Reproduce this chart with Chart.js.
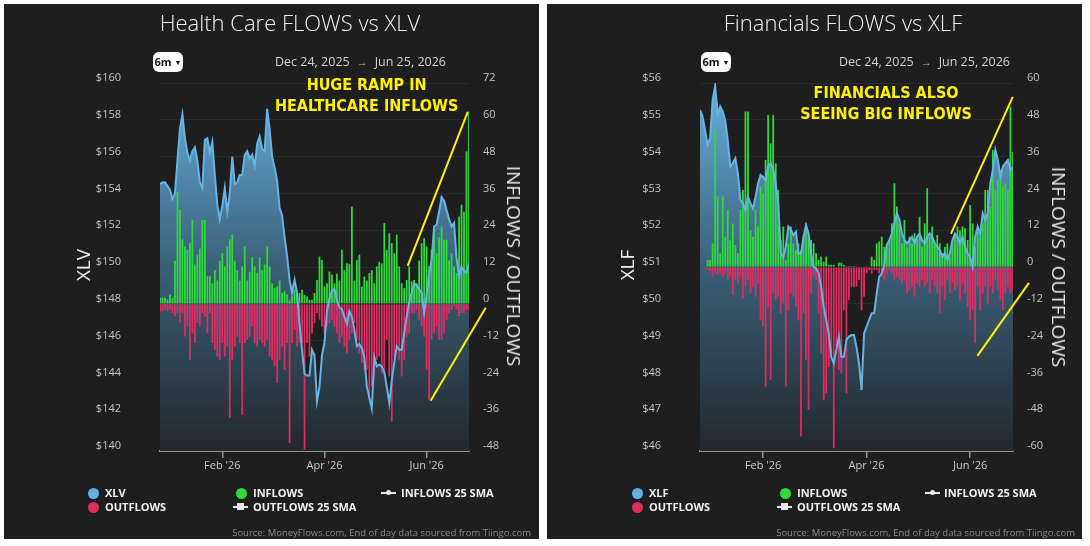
<!DOCTYPE html>
<html>
<head>
<meta charset="utf-8">
<script src="https://cdn.jsdelivr.net/npm/chart.js@4.4.1/dist/chart.umd.min.js"></script>
<style>
  body { margin: 0; background: #fff; width: 1090px; height: 546px; overflow: hidden; font-family: "Open Sans", sans-serif; }
  .panel { position: absolute; top: 4px; width: 535px; height: 535px; background: #1e1e1e; }
  .panel canvas { position: absolute; left: 0; top: 0; }
  .title { position: absolute; top: 3px; font-size: 22px; font-weight: 300; color: #f2f2f2; white-space: nowrap; transform: translateX(-50%); }
  .btn { position: absolute; top: 48px; width: 30px; height: 20px; background: #fff; border-radius: 6px; font-size: 11px; font-weight: 700; color: #111; line-height: 20px; text-align: center; }
  .btn span { font-size: 7px; vertical-align: 1px; }
  .range { position: absolute; top: 49px; font-size: 12.5px; color: #d2d2d2; white-space: nowrap; transform: translateX(-100%); }
  .range span { font-size: 11px; margin: 0 7px; color: #bbb; }
  .ytitle { position: absolute; font-size: 19px; font-weight: 400; color: #ececec; white-space: nowrap; }
  .lg { position: absolute; font-size: 11px; font-weight: 700; color: #f2f2f2; white-space: nowrap; line-height: 14px; }
  .dot { position: absolute; width: 11px; height: 11px; border-radius: 50%; }
  .sma { position: absolute; width: 15px; height: 2px; background: #e6e6e6; }
  .sma i { position: absolute; left: 5px; top: -2px; width: 5px; height: 5px; background: #e6e6e6; border-radius: 50%; }
  .sma b { position: absolute; left: 4px; top: -3px; width: 7px; height: 7px; background: #e6e6e6; }
  .src { position: absolute; top: 522px; font-size: 9.5px; color: #8c8c8c; white-space: nowrap; transform: translateX(-100%); }
</style>
</head>
<body>
<div class="panel" id="p1" style="left:4px">
  <canvas id="c1" width="535" height="535"></canvas>
  <div class="title" style="left:286px">Health Care FLOWS vs XLV</div>
  <div class="btn" style="left:149px">6m <span>&#9660;</span></div>
  <div class="range" style="left:442px">Dec 24, 2025<span>&rarr;</span>Jun 25, 2026</div>
  <div class="ytitle" style="left:79px;top:261px;transform:translate(-50%,-50%) rotate(-90deg)">XLV</div>
  <div class="ytitle" style="left:510px;top:262px;transform:translate(-50%,-50%) rotate(90deg)">INFLOWS / OUTFLOWS</div>
  <div class="dot" style="left:84px;top:484px;background:#62b3e2"></div><div class="lg" style="left:101px;top:482px">XLV</div>
  <div class="dot" style="left:84px;top:498px;background:#dc2d62"></div><div class="lg" style="left:101px;top:496px">OUTFLOWS</div>
  <div class="dot" style="left:232px;top:484px;background:#2fd83c"></div><div class="lg" style="left:249px;top:482px">INFLOWS</div>
  <div class="sma" style="left:229px;top:502px"><b></b></div><div class="lg" style="left:249px;top:496px">OUTFLOWS 25 SMA</div>
  <div class="sma" style="left:377px;top:488px"><i></i></div><div class="lg" style="left:397px;top:482px">INFLOWS 25 SMA</div>
  <div class="src" style="left:527px">Source: MoneyFlows.com, End of day data sourced from Tiingo.com</div>
</div>
<div class="panel" id="p2" style="left:547px">
  <canvas id="c2" width="535" height="535"></canvas>
  <div class="title" style="left:296px">Financials FLOWS vs XLF</div>
  <div class="btn" style="left:154px">6m <span>&#9660;</span></div>
  <div class="range" style="left:463px">Dec 24, 2025<span>&rarr;</span>Jun 25, 2026</div>
  <div class="ytitle" style="left:80px;top:261px;transform:translate(-50%,-50%) rotate(-90deg)">XLF</div>
  <div class="ytitle" style="left:512px;top:263px;transform:translate(-50%,-50%) rotate(90deg)">INFLOWS / OUTFLOWS</div>
  <div class="dot" style="left:85px;top:484px;background:#62b3e2"></div><div class="lg" style="left:102px;top:482px">XLF</div>
  <div class="dot" style="left:85px;top:498px;background:#dc2d62"></div><div class="lg" style="left:102px;top:496px">OUTFLOWS</div>
  <div class="dot" style="left:233px;top:484px;background:#2fd83c"></div><div class="lg" style="left:250px;top:482px">INFLOWS</div>
  <div class="sma" style="left:230px;top:502px"><b></b></div><div class="lg" style="left:250px;top:496px">OUTFLOWS 25 SMA</div>
  <div class="sma" style="left:378px;top:488px"><i></i></div><div class="lg" style="left:397px;top:482px">INFLOWS 25 SMA</div>
  <div class="src" style="left:528px">Source: MoneyFlows.com, End of day data sourced from Tiingo.com</div>
</div>
<script>
// trading-day index ticks (Dec 24, 2025 -> Jun 25, 2026, 125 sessions)
const tickIdx = [25, 66, 107];
const tickLabels = ["Feb '26", "Apr '26", "Jun '26"];

// Health Care / XLV
const xlvPrice = [154.5,154.6,154.6,154.4,154.2,153.7,154.0,155.8,157.5,158.3,
  157.0,156.2,155.8,156.3,156.5,155.8,154.6,154.3,156.9,157.0,
  156.2,156.8,155.0,153.4,152.6,153.3,154.3,153.0,154.0,156.0,
  154.5,154.6,155.0,155.0,156.1,156.3,155.9,156.1,155.5,156.7,
  157.1,156.4,156.3,158.6,157.5,156.0,155.4,154.7,153.2,152.8,
  151.6,150.6,149.3,148.6,149.3,148.6,146.9,145.5,144.2,144.1,
  144.1,145.5,145.2,142.7,143.5,145.2,145.9,147.6,148.3,148.7,
  148.8,148.2,147.8,147.7,147.3,146.9,147.6,147.3,146.6,145.7,
  145.8,145.6,145.1,143.5,142.9,142.3,145.1,144.6,144.7,144.6,
  144.3,143.5,142.6,143.8,144.8,145.7,145.5,145.5,146.4,147.3,
  148.1,148.6,149.1,149.0,148.8,148.6,147.5,148.5,149.6,150.4,
  152.2,152.3,153.0,153.8,153.6,153.1,152.6,152.2,152.4,150.5,
  149.5,150.0,149.8,149.7,150.2];
const xlvInflows = [2,2,2,1.5,3,2,14,36.6,30.6,21,
  18.7,17.6,19.8,27.4,12.8,16,18,27.4,27.4,9,
  9,6.7,11,7.6,14,16.5,12.2,18.7,21,22.5,
  14.1,11,7.6,12.2,18.7,7.6,10.4,15.2,12.2,10.1,
  15.2,11,12.8,18.7,12.2,6.7,5.1,5.6,7.6,3.5,
  4.1,3,1.3,2.4,4.6,3.5,3.5,4.6,2.9,2.4,
  1.3,1.3,3.5,7.8,15.4,14.3,5.6,6.7,10.5,9.5,
  6.7,9.8,7.6,17.6,11,13.2,13,31.7,7.6,14.3,
  16,5.6,8.9,7.6,10,11,6.7,12.2,13.7,13.2,
  26.3,17.6,23,19.8,16.5,22.5,12.2,6.7,5.1,7.8,
  12.2,7.3,7.8,6.7,14.1,19.8,21.4,18.7,12.2,17.6,
  25.2,16.5,21.7,25.2,20.9,20.9,14.1,16.5,12.2,10,
  28.5,32.3,30,49.7,62.7];
const xlvOutflows = [-2.5,-2.5,-2,-2.5,-2,-3,-4.1,-3,-6.3,-3,
  -10.7,-7.4,-18.3,-9.6,-12.8,-6.3,-7.4,-3,-4.1,-9.6,
  -3,-12.8,-15,-17.2,-18.3,-12.8,-17.2,-13.9,-37.3,-18.3,
  -13.9,-10.7,-12.8,-36.2,-12.8,-11.7,-10.7,-7.4,-12.8,-13.9,
  -11.7,-12.8,-13.9,-11.7,-17.2,-18.3,-20.4,-25.9,-18.3,-13.9,
  -21.5,-12.8,-45.4,-12.8,-8.5,-13.9,-12.8,-12.8,-47.6,-12.8,
  -17.2,-9.6,-6.3,-3,-5.2,-7.4,-9.6,-7.4,-6.3,-5.2,
  -7.4,-9.6,-12.8,-10.7,-13.9,-16.1,-11.7,-9.6,-6.3,-11.7,
  -16.1,-19.3,-21.5,-21.5,-31.3,-27,-23.7,-18.3,-17.2,-22.6,
  -21.5,-11.7,-23.7,-38.4,-17.2,-13.9,-18.3,-23.7,-18.3,-10.7,
  -9.6,-3,-3,-2,-5.2,-7.4,-10.7,-21.5,-31.3,-11.7,
  -9.6,-7.4,-11.7,-11.7,-9.6,-5.2,-3,-2,-0.9,-2,
  -4.1,-3,-3,-2,-2];

// Financials / XLF
const xlfPrice = [55.27,55.09,54.72,54.32,54.50,55.54,55.92,55.18,55.36,55.22,
  54.99,54.45,53.73,53.82,53.95,53.55,52.82,52.73,52.55,52.91,
  52.73,52.59,52.91,53.27,53.50,53.45,53.36,53.73,53.82,53.68,
  53.27,52.73,51.37,51.28,51.55,52.10,52.01,51.87,51.96,51.37,
  51.37,51.82,52.14,51.91,51.37,51.01,50.96,50.83,50.47,49.92,
  49.56,49.20,48.56,48.38,48.74,49.11,48.56,48.56,49.02,49.11,
  49.15,49.15,48.83,48.38,47.66,49.20,49.38,49.56,49.74,49.74,
  50.28,50.74,50.83,51.05,51.60,51.73,51.91,52.19,52.46,52.28,
  51.91,51.73,51.64,51.73,51.82,51.64,51.82,51.91,51.73,51.64,
  51.82,51.91,51.82,51.64,51.55,51.46,51.28,51.37,51.19,51.37,
  51.73,51.91,51.82,51.64,51.82,51.55,51.37,51.28,51.01,51.82,
  52.10,51.91,52.46,52.28,52.46,53.27,53.64,54.18,53.91,53.45,
  53.73,53.82,53.91,53.64,53.73];
const xlfInflows = [0,0,0,2.3,2.3,7.7,44.7,23,4.5,23,
  9.9,18.6,8.8,14.2,7.2,4.5,18.6,25.1,50.7,50.7,
  12,9.9,18.6,13.2,26.2,24,34.9,49.6,40.3,49.6,
  33.8,25.1,8.8,13.2,2.3,7.7,13.2,7.7,5.5,7.7,
  5.5,9.9,14.2,9.9,8.8,7.7,4.5,2.3,3.4,1.7,
  3.4,0.7,0.7,0.7,0,1.4,1.4,0.7,0.3,0.3,
  0.3,0.3,0.1,0,0,0,0.3,0,3.4,2.3,
  7.7,8.3,9.9,6.6,7.7,8.8,14.2,27.3,19.7,14.2,
  7.7,15.3,6.6,9.9,7.7,11,9.9,16.4,6.6,14.2,
  25.7,9.9,13.2,7.7,10.4,7.7,4.5,6.6,7.7,3.4,
  7.7,11,13.2,12,13.2,12.6,8.8,20.2,14.2,6.6,
  11.5,9.9,14.2,25.1,25.1,19.7,38.2,25.1,28.4,31.6,
  26.2,27.3,25.1,52.3,37.6];
const xlfOutflows = [0,0,-0.5,-1,-1.5,-3.2,-2.1,-2.6,-2.1,-3.2,
  -2.1,-4.2,-3.2,-9.1,-4.2,-5.3,-3.2,-10.2,-6.4,-4.2,
  -8.6,-6.4,-9.7,-5.3,-17.3,-19.5,-39,-13,-36.8,-8.6,
  -10.8,-9.7,-15.1,-11.9,-39,-14.1,-8.6,-9.7,-13,-17.3,
  -55.3,-15.1,-30.3,-46.6,-8.6,-3.2,-4.2,-15.1,-28.2,-43.4,
  -41.2,-32.6,-29.3,-59.1,-26,-33.6,-34.7,-14.1,-41.2,-10.8,
  -6.4,-6.4,-6.4,-4.2,-14.1,-9.7,-2.1,-1,-2.1,-1,
  -1,-2.1,-3.2,-4.2,-2.1,-1,-2.1,-4.2,-3.2,-4.2,
  -5.3,-4.2,-8.6,-7.5,-6.4,-9.7,-5.3,-6.4,-4.2,-6.4,
  -5.3,-8.6,-4.2,-6.4,-8.6,-15.1,-6.4,-10.8,-4.2,-8.6,
  -5.3,-7.5,-6.4,-10.8,-5.3,-8.6,-13,-17.3,-14.1,-24.9,
  -6.4,-14.1,-8.6,-6.4,-11.9,-6.4,-8.6,-4.2,-7.5,-10.8,
  -14.1,-8.6,-6.4,-8.6,-7.5];

const FONT = '"Open Sans", sans-serif';
const LINE = '#67b3e3', GREEN = '#2fd83c', RED = '#dc2d62', AXIS = '#8d939c';

function areaFill(ctx) {
  const a = ctx.chart.chartArea;
  if (!a) return 'rgba(80,140,180,0.6)';
  const g = ctx.chart.ctx.createLinearGradient(0, a.top, 0, a.bottom);
  g.addColorStop(0, 'rgba(104,176,222,1)');
  g.addColorStop(0.5, 'rgba(58,96,120,1)');
  g.addColorStop(1, 'rgba(35,40,44,1)');
  return g;
}

const notes = {
  id: 'notes',
  afterDatasetsDraw(chart, args, o) {
    const { ctx, scales: { x, flow } } = chart;
    ctx.save();
    ctx.strokeStyle = '#fff200';
    ctx.lineWidth = 2;
    o.lines.forEach(l => {
      ctx.beginPath();
      ctx.moveTo(x.getPixelForValue(l[0]), flow.getPixelForValue(l[1]));
      ctx.lineTo(x.getPixelForValue(l[2]), flow.getPixelForValue(l[3]));
      ctx.stroke();
    });
    ctx.fillStyle = '#fff200';
    ctx.font = 'bold 16px "Liberation Sans Narrow", "DejaVu Sans Condensed", sans-serif';
    ctx.textAlign = 'center';
    ctx.textBaseline = 'middle';
    const cx = x.getPixelForValue(o.at[0]), cy = flow.getPixelForValue(o.at[1]);
    o.text.forEach((t, k) => ctx.fillText(t, cx, cy + k * 21));
    ctx.restore();
  }
};

function build(id, price, inflows, outflows, pMin, pMax, fMin, fMax, leftW, rightW, note) {
  const pts = a => a.map((v, i) => ({ x: i, y: v }));
  new Chart(document.getElementById(id), {
    data: {
      datasets: [
        { type: 'line', data: pts(price), yAxisID: 'price', borderColor: LINE, borderWidth: 2,
          pointRadius: 0, tension: 0, fill: 'start', backgroundColor: areaFill, order: 0 },
        { type: 'bar', data: pts(inflows), yAxisID: 'flow', backgroundColor: GREEN,
          grouped: false, barPercentage: 0.72, categoryPercentage: 1, order: 1 },
        { type: 'bar', data: pts(outflows), yAxisID: 'flow', backgroundColor: RED,
          grouped: false, barPercentage: 0.72, categoryPercentage: 1, order: 2 }
      ]
    },
    options: {
      responsive: false,
      animation: false,
      layout: { padding: { top: 79, left: 0, right: 0, bottom: 0 } },
      plugins: {
        legend: { display: false },
        tooltip: { enabled: false },
        filler: { drawTime: 'beforeDatasetsDraw' },
        notes: note
      },
      scales: {
        x: {
          type: 'linear', min: 0, max: price.length - 1, offset: false,
          afterBuildTicks: s => { s.ticks = tickIdx.map(v => ({ value: v })); },
          afterFit: s => { s.height = 88; },
          ticks: { callback: v => tickLabels[tickIdx.indexOf(v)], color: '#cbcbcb',
                   font: { size: 11, family: FONT }, padding: 1, maxRotation: 0, autoSkip: false },
          grid: { offset: false, drawOnChartArea: false, drawTicks: true, tickLength: 7, color: AXIS, lineWidth: 1.5 },
          border: { display: true, color: AXIS, width: 2 }
        },
        price: {
          position: 'left', min: pMin, max: pMax,
          afterFit: s => { s.width = leftW; },
          ticks: { stepSize: (pMax - pMin) / 10, callback: v => '$' + v, color: '#c4c4c4',
                   font: { size: 11, family: FONT }, padding: 39, labelOffset: -5 },
          grid: { color: 'rgba(255,255,255,0.06)', drawTicks: false },
          border: { display: false }
        },
        flow: {
          position: 'right', min: fMin, max: fMax,
          afterFit: s => { s.width = rightW; },
          ticks: { stepSize: 12, color: '#c4c4c4', font: { size: 11, family: FONT }, padding: 14, labelOffset: -5 },
          grid: { drawOnChartArea: false, drawTicks: false },
          border: { display: false }
        }
      }
    },
    plugins: [notes]
  });
}

build('c1', xlvPrice, xlvInflows, xlvOutflows, 140, 160, -48, 72, 156, 70, {
  text: ['HUGE RAMP IN', 'HEALTHCARE INFLOWS'], at: [82.9, 71.1],
  lines: [[99.4, 12.4, 123.5, 62.6], [108.6, -31.6, 130.7, -1.3]]
});
build('c2', xlfPrice, xlfInflows, xlfOutflows, 46, 56, -60, 60, 153, 69, {
  text: ['FINANCIALS ALSO', 'SEEING BIG INFLOWS'], at: [73.7, 56.4],
  lines: [[99.4, 10.8, 123.9, 55.5], [109.9, -29.0, 130.3, -5.2]]
});
</script>
</body>
</html>
